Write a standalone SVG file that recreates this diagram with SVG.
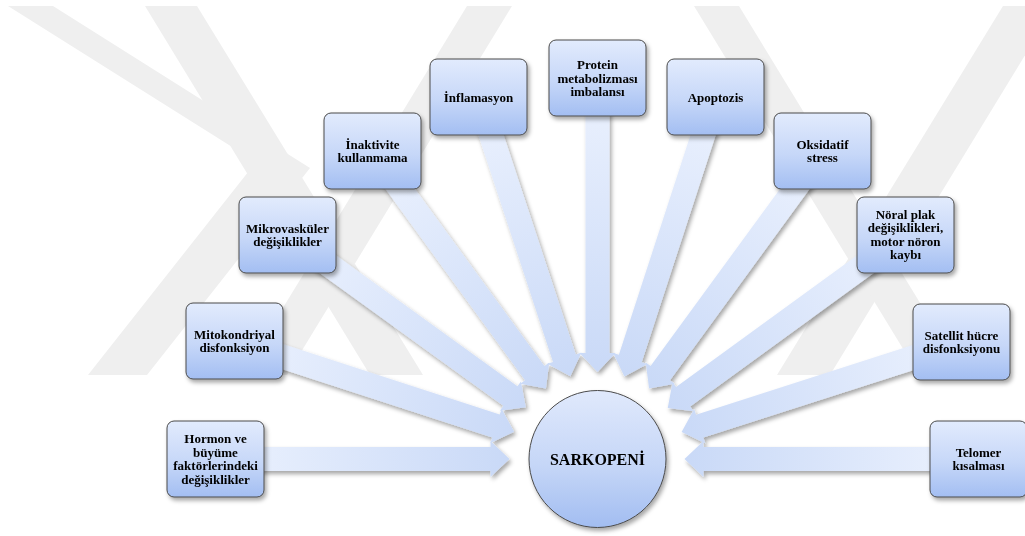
<svg xmlns="http://www.w3.org/2000/svg" xmlns:xlink="http://www.w3.org/1999/xlink" width="1025" height="536" viewBox="0 0 1025 536">
<style>
.wm{fill:#efefef}
.box{fill:url(#boxg);stroke:#4a4a4a;stroke-width:1}
.t{font-family:"Liberation Serif","Times New Roman",serif;font-weight:bold;font-size:13px;fill:#000;text-anchor:middle}
.ct{font-family:"Liberation Serif","Times New Roman",serif;font-weight:bold;font-size:16px;fill:#000;text-anchor:middle}
.arr{fill:url(#arrg)}
</style>
<defs>
<linearGradient id="boxg" x1="0" y1="0" x2="0" y2="1">
<stop offset="0" stop-color="#e2ebfd"/>
<stop offset="0.55" stop-color="#c6d7f8"/>
<stop offset="1" stop-color="#a3bef2"/>
</linearGradient>
<linearGradient id="circg" x1="0" y1="0" x2="0" y2="1">
<stop offset="0" stop-color="#e0e9fc"/>
<stop offset="0.55" stop-color="#c5d6f7"/>
<stop offset="1" stop-color="#a2bdf1"/>
</linearGradient>
<linearGradient id="arrg" x1="0" y1="0" x2="1" y2="0">
<stop offset="0" stop-color="#ecf2fe"/>
<stop offset="1" stop-color="#c9d9f7"/>
</linearGradient>
<filter id="sh" x="-10%" y="-10%" width="130%" height="130%">
<feDropShadow dx="2" dy="3" stdDeviation="2" flood-color="#000" flood-opacity="0.35"/>
</filter>
<path id="arrow" class="arr" d="M0,-12 L275,-12 L275,-18 L294,0 L275,18 L275,12 L0,12 Z"/>
</defs>
<rect width="1025" height="536" fill="#ffffff"/>
<g id="watermark">
<polygon class="wm" points="8,6 53,6 310,168 147,375 88,375 256,162"/>
<polygon class="wm" points="145,6 197,6 423,375 370,375"/>
<polygon class="wm" points="467,6 512,6 287,375 242,375"/>
<polygon class="wm" points="1003,6 1055,6 830,375 777,375"/>
<polygon class="wm" points="694,6 739,6 964,375 919,375"/>
</g>
<g id="connectors" filter="url(#sh)">
<use xlink:href="#arrow" transform="translate(215.5,459) rotate(0)"/>
<use xlink:href="#arrow" transform="translate(234.5,341) rotate(18)"/>
<use xlink:href="#arrow" transform="translate(287.5,235) rotate(35.85)"/>
<use xlink:href="#arrow" transform="translate(372.5,151) rotate(53.85)"/>
<use xlink:href="#arrow" transform="translate(478.5,97) rotate(71.8)"/>
<use xlink:href="#arrow" transform="translate(597.5,78) rotate(90)"/>
<use xlink:href="#arrow" transform="translate(715.5,97) rotate(108.05)"/>
<use xlink:href="#arrow" transform="translate(822.5,151) rotate(126.15)"/>
<use xlink:href="#arrow" transform="translate(905.5,235) rotate(143.97)"/>
<use xlink:href="#arrow" transform="translate(961.5,342) rotate(162.18)"/>
<use xlink:href="#arrow" transform="translate(978.5,459) rotate(180)"/>
</g>
<g id="n-sarkopeni" filter="url(#sh)">
<circle cx="597.5" cy="459" r="68.5" fill="url(#circg)" stroke="#4a4a4a" stroke-width="1"/>
<text class="ct" x="597.5" y="464.5">SARKOPENİ</text>
</g>
<g id="n-hormon" filter="url(#sh)">
<rect class="box" x="167" y="421" width="97" height="76" rx="7"/>
<text class="t" x="215.5" y="443.25">Hormon ve</text>
<text class="t" x="215.5" y="456.75">büyüme</text>
<text class="t" x="215.5" y="470.25">faktörlerindeki</text>
<text class="t" x="215.5" y="483.75">değişiklikler</text>
</g>
<g id="n-mito" filter="url(#sh)">
<rect class="box" x="186" y="303" width="97" height="76" rx="7"/>
<text class="t" x="234.5" y="338.75">Mitokondriyal</text>
<text class="t" x="234.5" y="352.25">disfonksiyon</text>
</g>
<g id="n-mikro" filter="url(#sh)">
<rect class="box" x="239" y="197" width="97" height="76" rx="7"/>
<text class="t" x="287.5" y="232.75">Mikrovasküler</text>
<text class="t" x="287.5" y="246.25">değişiklikler</text>
</g>
<g id="n-inaktivite" filter="url(#sh)">
<rect class="box" x="324" y="113" width="97" height="76" rx="7"/>
<text class="t" x="372.5" y="148.75">İnaktivite</text>
<text class="t" x="372.5" y="162.25">kullanmama</text>
</g>
<g id="n-inflamasyon" filter="url(#sh)">
<rect class="box" x="430" y="59" width="97" height="76" rx="7"/>
<text class="t" x="478.5" y="101.5">İnflamasyon</text>
</g>
<g id="n-protein" filter="url(#sh)">
<rect class="box" x="549" y="40" width="97" height="76" rx="7"/>
<text class="t" x="597.5" y="69">Protein</text>
<text class="t" x="597.5" y="82.5">metabolizması</text>
<text class="t" x="597.5" y="96">imbalansı</text>
</g>
<g id="n-apoptozis" filter="url(#sh)">
<rect class="box" x="667" y="59" width="97" height="76" rx="7"/>
<text class="t" x="715.5" y="101.5">Apoptozis</text>
</g>
<g id="n-oksidatif" filter="url(#sh)">
<rect class="box" x="774" y="113" width="97" height="76" rx="7"/>
<text class="t" x="822.5" y="148.75">Oksidatif</text>
<text class="t" x="822.5" y="162.25">stress</text>
</g>
<g id="n-noral" filter="url(#sh)">
<rect class="box" x="857" y="197" width="97" height="76" rx="7"/>
<text class="t" x="905.5" y="218.75">Nöral plak</text>
<text class="t" x="905.5" y="232.25">değişiklikleri,</text>
<text class="t" x="905.5" y="245.75">motor nöron</text>
<text class="t" x="905.5" y="259.25">kaybı</text>
</g>
<g id="n-satellit" filter="url(#sh)">
<rect class="box" x="913" y="304" width="97" height="76" rx="7"/>
<text class="t" x="961.5" y="339.75">Satellit hücre</text>
<text class="t" x="961.5" y="353.25">disfonksiyonu</text>
</g>
<g id="n-telomer" filter="url(#sh)">
<rect class="box" x="930" y="421" width="97" height="76" rx="7"/>
<text class="t" x="978.5" y="456.75">Telomer</text>
<text class="t" x="978.5" y="470.25">kısalması</text>
</g>
</svg>
